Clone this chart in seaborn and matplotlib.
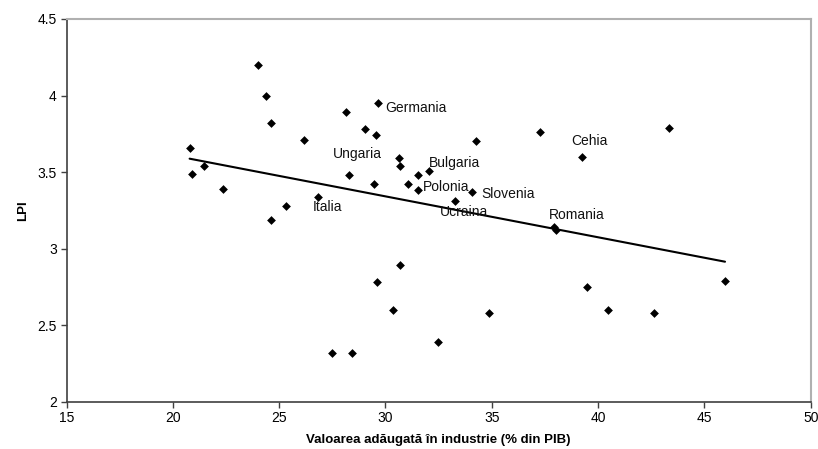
import matplotlib
matplotlib.use("Agg")
import matplotlib.pyplot as plt
import seaborn as sns
import pandas as pd

# industry value added (% of GDP)
industrie = [20.79, 20.90, 21.48, 22.37, 24.00, 24.36, 24.60, 24.60, 25.32, 26.17,
             26.82, 28.14, 28.30, 29.03, 29.46, 29.57, 29.66, 30.63, 30.69, 31.06,
             31.53, 31.53, 32.06, 33.28, 34.06, 34.28, 37.29, 39.25, 43.33, 37.94,
             38.03, 45.97, 39.47, 40.47, 42.64, 34.85, 32.48, 30.68, 29.61, 30.37,
             27.50, 28.41]
# LPI
lpi = [3.66, 3.49, 3.54, 3.39, 4.20, 4.00, 3.82, 3.19, 3.28, 3.71,
       3.34, 3.89, 3.48, 3.78, 3.42, 3.74, 3.95, 3.59, 3.54, 3.42,
       3.48, 3.38, 3.51, 3.31, 3.37, 3.70, 3.76, 3.60, 3.79, 3.14,
       3.12, 2.79, 2.75, 2.60, 2.58, 2.58, 2.39, 2.89, 2.78, 2.60,
       2.32, 2.32]

tari = ["Germania", "Ungaria", "Italia", "Bulgaria", "Polonia", "Slovenia",
        "Ucraina", "Romania", "Cehia"]
tari_x = [30.0, 27.53, 26.57, 32.03, 31.78, 34.49, 32.56, 37.68, 38.73]
tari_y = [3.92, 3.62, 3.27, 3.56, 3.40, 3.36, 3.24, 3.22, 3.70]

df = pd.DataFrame({"x": industrie, "y": lpi})

sns.set_style("white")
plt.rcParams["font.family"] = ["Liberation Sans", "DejaVu Sans"]
plt.rcParams["text.color"] = "black"
plt.rcParams["axes.labelcolor"] = "black"
plt.rcParams["xtick.color"] = "black"
plt.rcParams["ytick.color"] = "black"

fig = plt.figure(figsize=(8.18, 4.49), dpi=100)
ax = fig.add_axes([66.5 / 818, 1 - 401.7 / 449, (810.7 - 66.5) / 818, (401.7 - 19) / 449])

sns.regplot(data=df, x="x", y="y", ax=ax, ci=None, truncate=True,
            marker="D",
            scatter_kws={"s": 20, "color": "black", "linewidths": 0, "alpha": 1},
            line_kws={"color": "black", "linewidth": 1.5})

for t, tx, ty in zip(tari, tari_x, tari_y):
    ax.text(tx, ty, t, fontsize=10, va="center", ha="left", color="#111111")

ax.set_xlim(15, 50)
ax.set_ylim(2, 4.5)
ax.set_xticks([15, 20, 25, 30, 35, 40, 45, 50])
ax.set_yticks([2, 2.5, 3, 3.5, 4, 4.5])
ax.set_yticklabels(["2", "2.5", "3", "3.5", "4", "4.5"])
ax.set_xlabel("Valoarea adăugată în industrie (% din PIB)", fontsize=9.5,
              fontweight="bold", labelpad=6)
ax.set_ylabel("LPI", fontsize=9.5, fontweight="bold", labelpad=6)

for s in ["left", "bottom"]:
    ax.spines[s].set_color("#404040")
    ax.spines[s].set_linewidth(1.2)
for s in ["top", "right"]:
    ax.spines[s].set_color("#b0b0b0")
    ax.spines[s].set_linewidth(1.5)
ax.tick_params(axis="both", which="major", direction="out", length=4, width=1,
               color="#404040", labelcolor="black", labelsize=10, pad=3,
               left=True, bottom=True)

fig.savefig("out.png", dpi=100)
